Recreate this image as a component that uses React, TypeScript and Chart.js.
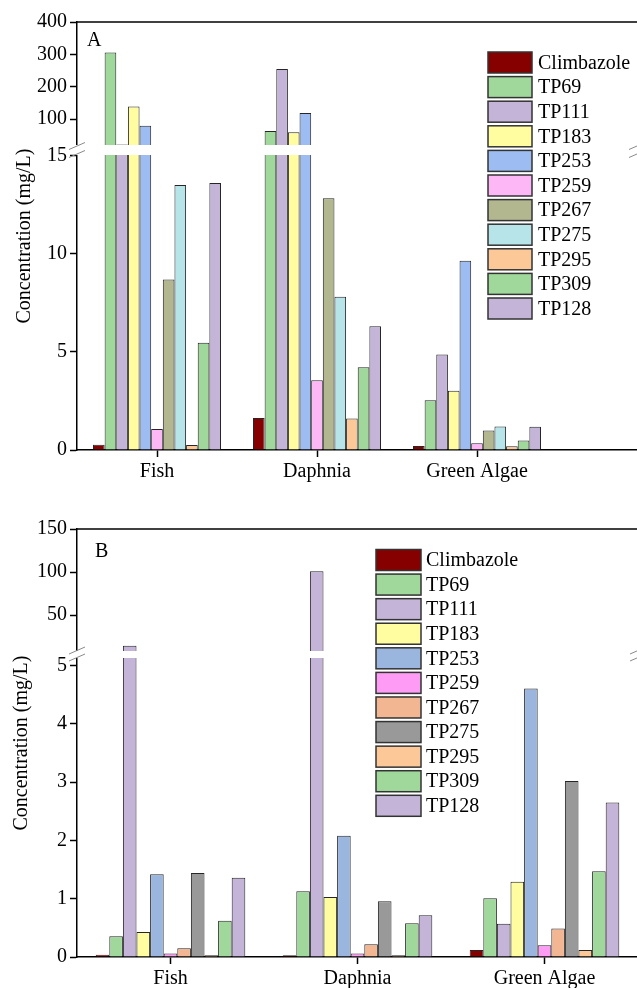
import React, { useEffect, useRef } from 'react';
import { Chart, registerables } from 'chart.js';

Chart.register(...registerables);

const FONT = '"Liberation Serif", "Times New Roman", serif';

const seriesNames = ['Climbazole', 'TP69', 'TP111', 'TP183', 'TP253', 'TP259', 'TP267', 'TP275', 'TP295', 'TP309', 'TP128'];
const categories = ['Fish', 'Daphnia', 'Green Algae'];
const yTitle = 'Concentration (mg/L)';

// Panel A values (Fish, Daphnia, Green Algae)
const aClimbazole = [0.27, 1.63, 0.2];
const aTP69 = [306, 64, 2.54];
const aTP111 = [22, 255, 4.87];
const aTP183 = [139, 60, 3.02];
const aTP253 = [80, 119, 9.65];
const aTP259 = [1.07, 3.56, 0.34];
const aTP267 = [8.69, 12.84, 1.0];
const aTP275 = [13.52, 7.82, 1.2];
const aTP295 = [0.25, 1.61, 0.19];
const aTP309 = [5.47, 4.22, 0.49];
const aTP128 = [13.62, 6.31, 1.19];

// Panel B values (Fish, Daphnia, Green Algae)
const bClimbazole = [0.04, 0.03, 0.12];
const bTP69 = [0.355, 1.13, 1.01];
const bTP111 = [14.5, 101, 0.57];
const bTP183 = [0.43, 1.03, 1.29];
const bTP253 = [1.42, 2.08, 4.61];
const bTP259 = [0.06, 0.06, 0.2];
const bTP267 = [0.15, 0.22, 0.49];
const bTP275 = [1.44, 0.955, 3.02];
const bTP295 = [0.03, 0.03, 0.12];
const bTP309 = [0.62, 0.58, 1.47];
const bTP128 = [1.36, 0.715, 2.65];

const colorsA = ['#870000', '#A0D89C', '#C3B4D8', '#FFFDA0', '#9CBCF2', '#FDB7F7', '#B2B790', '#B6E4E9', '#FDC898', '#A0D89C', '#C3B4D8'];
const colorsB = ['#870000', '#A0D89C', '#C3B4D8', '#FFFDA0', '#9BB6DE', '#FD9BF5', '#F2B693', '#999999', '#FDC898', '#A0D89C', '#C3B4D8'];

const aLowTicks = [0, 5, 10, 15];
const aHighTicks = [100, 200, 300, 400];
const bLowTicks = [0, 1, 2, 3, 4, 5];
const bHighTicks = [50, 100, 150];

const panelA = {
  letter: 'A', letterX: 87, letterY: 41,
  extraBand: true,
  series: [aClimbazole, aTP69, aTP111, aTP183, aTP253, aTP259, aTP267, aTP275, aTP295, aTP309, aTP128],
  colors: colorsA,
  lowMax: 15.3, highMin: 5, highMax: 400,
  lowTicks: aLowTicks, highTicks: aHighTicks,
  width: 717, height: 500, top: 0, padTop: 22, xAxisH: 50,
  lowWeight: 300, highWeight: 128,
  bandUp: 5, bandDown: 5, markOff: 4,
  titleX: 25,
  legend: { boxX: 488, boxW: 44, boxH: 21, y0: 62.5, dy: 24.6, textX: 538 },
};

const panelB = {
  letter: 'B', letterX: 95, letterY: 52,
  extraBand: false,
  series: [bClimbazole, bTP69, bTP111, bTP183, bTP253, bTP259, bTP267, bTP275, bTP295, bTP309, bTP128],
  colors: colorsB,
  lowMax: 5.2, highMin: 5, highMax: 150,
  lowTicks: bLowTicks, highTicks: bHighTicks,
  width: 638, height: 488, top: 500, padTop: 29, xAxisH: 31,
  lowWeight: 303, highWeight: 125,
  bandUp: 3, bandDown: 4, markOff: 3.5,
  titleX: 22,
  legend: { boxX: 376, boxW: 45, boxH: 21, y0: 60, dy: 24.58, textX: 426 },
};

type PanelCfg = typeof panelA;

function makeChart(canvas: HTMLCanvasElement, cfg: PanelCfg) {
  const labels = cfg.extraBand ? [...categories, ''] : [...categories];
  const datasets: any[] = [];
  cfg.series.forEach((vals, i) => {
    const common = {
      backgroundColor: cfg.colors[i],
      borderColor: '#262626',
      borderWidth: 1,
      stack: 's' + i,
      categoryPercentage: 0.8,
      barPercentage: 1,
    };
    datasets.push({ ...common, label: seriesNames[i], data: vals.map((v) => Math.min(v, cfg.lowMax)), yAxisID: 'yLow' });
    datasets.push({ ...common, label: seriesNames[i] + '_upper', data: vals.map((v) => (v > cfg.lowMax ? [cfg.highMin, v] : null)), yAxisID: 'yHigh' });
  });

  const tickFont = { family: FONT, size: 20 };
  const yGrid = { display: true, drawOnChartArea: false, drawTicks: true, tickLength: 7, tickWidth: 1.5, tickColor: '#000' };
  const border = { display: true, color: '#000', width: 1.5 };

  const overlay = {
    id: 'overlay',
    afterDatasetsDraw(chart: any) {
      const ctx = chart.ctx as CanvasRenderingContext2D;
      const area = chart.chartArea;
      const hi = chart.scales.yHigh;
      const xs = chart.scales.x;
      const boundary = hi.bottom;
      const rightX = cfg.extraBand ? xs.getPixelForTick(labels.length - 1) : area.right;
      ctx.save();
      // white break band
      ctx.fillStyle = '#ffffff';
      ctx.fillRect(area.left - 1.5, boundary - cfg.bandUp, rightX - area.left + 3, cfg.bandUp + cfg.bandDown);
      // break marks
      ctx.strokeStyle = '#8a8a8a';
      ctx.lineWidth = 1;
      for (const x0 of [area.left, rightX]) {
        for (const yc of [boundary - cfg.markOff, boundary + cfg.markOff]) {
          ctx.beginPath();
          ctx.moveTo(x0 - 8, yc + 3.5);
          ctx.lineTo(x0 + 8, yc - 3.5);
          ctx.stroke();
        }
      }
      // top frame line
      ctx.strokeStyle = '#000';
      ctx.lineWidth = 1.5;
      ctx.beginPath();
      ctx.moveTo(area.left, area.top);
      ctx.lineTo(chart.width, area.top);
      ctx.stroke();
      // panel letter
      ctx.fillStyle = '#000';
      ctx.font = `20px ${FONT}`;
      ctx.textAlign = 'left';
      ctx.textBaseline = 'middle';
      ctx.fillText(cfg.letter, cfg.letterX, cfg.letterY);
      // y title
      ctx.save();
      ctx.translate(cfg.titleX, (area.top + area.bottom) / 2);
      ctx.rotate(-Math.PI / 2);
      ctx.textAlign = 'center';
      ctx.textBaseline = 'middle';
      ctx.fillText(yTitle, 0, 0);
      ctx.restore();
      // legend
      const lg = cfg.legend;
      seriesNames.forEach((name, i) => {
        const yc = lg.y0 + i * lg.dy;
        ctx.fillStyle = cfg.colors[i];
        ctx.fillRect(lg.boxX, yc - lg.boxH / 2, lg.boxW, lg.boxH);
        ctx.strokeStyle = '#333';
        ctx.lineWidth = 1.5;
        ctx.strokeRect(lg.boxX, yc - lg.boxH / 2, lg.boxW, lg.boxH);
        ctx.fillStyle = '#000';
        ctx.textAlign = 'left';
        ctx.textBaseline = 'middle';
        ctx.fillText(name, lg.textX, yc + 1);
      });
      ctx.restore();
    },
  };

  return new Chart(canvas, {
    type: 'bar',
    data: { labels, datasets },
    options: {
      animation: false,
      responsive: false,
      devicePixelRatio: 1,
      layout: { padding: { top: cfg.padTop, left: 0, right: 0, bottom: 0 } },
      plugins: { legend: { display: false }, tooltip: { enabled: false } },
      scales: {
        x: {
          type: 'category',
          offset: true,
          grid: {
            display: true, drawOnChartArea: false, drawTicks: true, tickLength: 7, tickWidth: 1.5, offset: false,
            tickColor: (c: any) => (labels[c.index] === '' ? 'rgba(0,0,0,0)' : '#000'),
          },
          border,
          ticks: { color: '#000', font: tickFont, padding: 3, autoSkip: false, maxRotation: 0 },
          afterFit: (s: any) => { s.height = cfg.xAxisH; },
        },
        yLow: {
          type: 'linear', position: 'left', stack: 'ystack', stackWeight: cfg.lowWeight, weight: 0, stacked: false,
          min: 0, max: cfg.lowMax,
          afterBuildTicks: (s: any) => { s.ticks = cfg.lowTicks.map((v) => ({ value: v })); },
          grid: yGrid, border,
          ticks: { color: '#000', font: tickFont, padding: 3, autoSkip: false },
          afterFit: (s: any) => { s.width = 77; },
        },
        yHigh: {
          type: 'linear', position: 'left', stack: 'ystack', stackWeight: cfg.highWeight, weight: 1, stacked: false,
          min: cfg.highMin, max: cfg.highMax,
          afterBuildTicks: (s: any) => { s.ticks = cfg.highTicks.map((v) => ({ value: v })); },
          grid: yGrid, border,
          ticks: { color: '#000', font: tickFont, padding: 3, autoSkip: false },
          afterFit: (s: any) => { s.width = 77; },
        },
      } as any,
    },
    plugins: [overlay],
  } as any);
}

function Panel({ cfg }: { cfg: PanelCfg }) {
  const ref = useRef<HTMLCanvasElement>(null);
  useEffect(() => {
    const chart = makeChart(ref.current as HTMLCanvasElement, cfg);
    return () => chart.destroy();
  }, []);
  return (
    <canvas
      ref={ref}
      width={cfg.width}
      height={cfg.height}
      style={{ position: 'absolute', left: 0, top: cfg.top, display: 'block' }}
    />
  );
}

export default function App() {
  return (
    <div style={{ position: 'absolute', left: 0, top: 0, width: 637, height: 988, overflow: 'hidden', background: '#fff' }}>
      <Panel cfg={panelA} />
      <Panel cfg={panelB} />
    </div>
  );
}
